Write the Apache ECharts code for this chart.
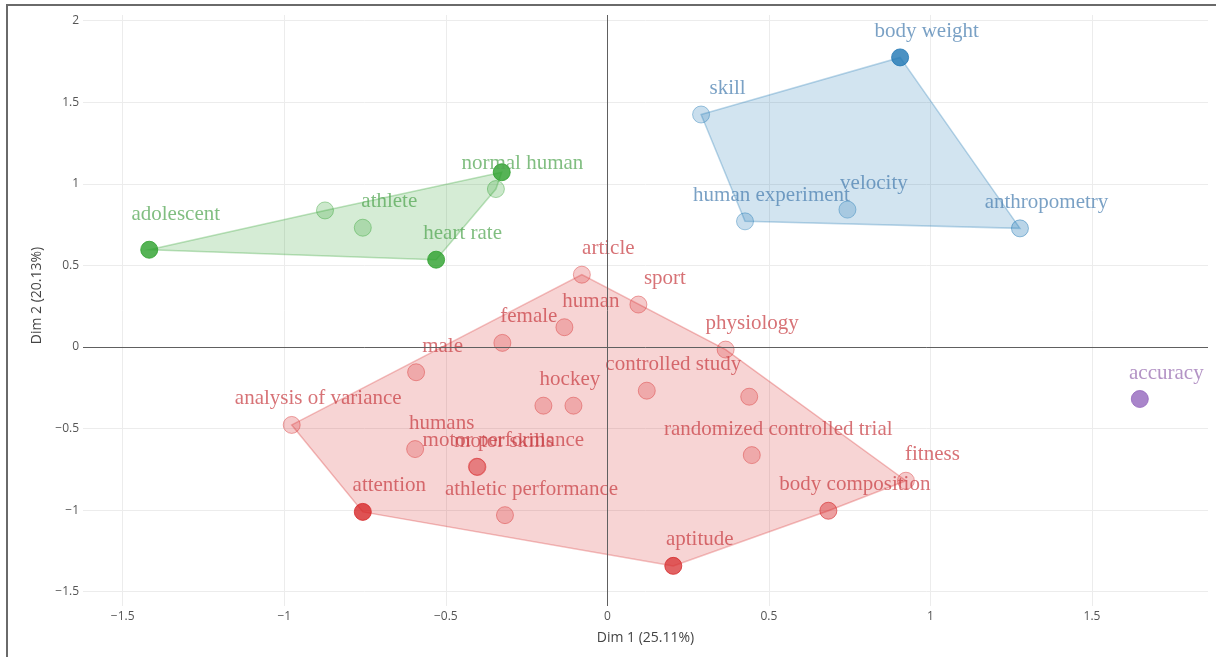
<!DOCTYPE html>
<html>
<head>
<meta charset="utf-8">
<script src="https://cdn.jsdelivr.net/npm/echarts@6/dist/echarts.min.js"></script>
<style>
  html, body { margin: 0; padding: 0; background: #fff; }
  #chart { width: 1216px; height: 657px; }
</style>
</head>
<body>
<div id="chart"></div>
<script>
// Keyword coordinates on the first two dimensions, one block per cluster.
// An empty name is a point drawn without a text label.

// cluster 1 (green)
const c1Names = ['adolescent', '', 'athlete', 'normal human', '', 'heart rate'];
const c1Dim1  = [-1.418, -0.874, -0.757, -0.345, -0.327, -0.530];
const c1Dim2  = [ 0.596,  0.837,  0.731,  0.968,  1.071,  0.535];

// cluster 2 (blue)
const c2Names = ['skill', 'body weight', 'human experiment', 'velocity', 'anthropometry'];
const c2Dim1  = [0.290, 0.906, 0.426, 0.743, 1.277];
const c2Dim2  = [1.425, 1.775, 0.770, 0.842, 0.727];

// cluster 3 (red)
const c3Names = ['article', 'sport', 'human', 'female', 'male', 'physiology',
  'controlled study', '', 'hockey', '', 'analysis of variance', 'humans',
  'motor performance', 'motor skills', 'randomized controlled trial', 'attention',
  'athletic performance', 'fitness', 'body composition', 'aptitude'];
const c3Dim1  = [-0.079, 0.096, -0.133, -0.325, -0.592, 0.366,
  0.122, 0.439, -0.198, -0.105, -0.977, -0.595,
  -0.404, -0.402, 0.447, -0.757,
  -0.317, 0.924, 0.684, 0.204];
const c3Dim2  = [0.443, 0.260, 0.121, 0.025, -0.155, -0.016,
  -0.268, -0.305, -0.360, -0.360, -0.478, -0.626,
  -0.734, -0.736, -0.663, -1.011,
  -1.031, -0.820, -1.004, -1.342];

// cluster 4 (purple)
const c4Names = ['accuracy'];
const c4Dim1  = [1.648];
const c4Dim2  = [-0.319];

// ---- styling (kept apart from the values above) ----
const c1Alpha = [1, 0.3, 0.3, 0.3, 1, 1];
const c2Alpha = [0.3, 1, 0.3, 0.3, 0.38];
const c3Alpha = [0.3, 0.3, 0.3, 0.3, 0.3, 0.3, 0.3, 0.3, 0.3, 0.3, 0.3, 0.3,
  0.36, 0.36, 0.3, 1, 0.3, 0.3, 0.55, 0.9];
const c4Alpha = [1];

const clusters = [
  { names: c1Names, xs: c1Dim1, ys: c1Dim2, alpha: c1Alpha, rgb: [44, 160, 44],   text: [80, 165, 80] },
  { names: c2Names, xs: c2Dim1, ys: c2Dim2, alpha: c2Alpha, rgb: [31, 119, 180],  text: [70, 125, 175] },
  { names: c3Names, xs: c3Dim1, ys: c3Dim2, alpha: c3Alpha, rgb: [214, 39, 40],   text: [200, 60, 65] },
  { names: c4Names, xs: c4Dim1, ys: c4Dim2, alpha: c4Alpha, rgb: [148, 103, 189], text: [150, 105, 175] }
];

// Per-label nudges (pixels) on top of the common label offset
const labelNudge = { 'adolescent': [0, -9] };
const LABEL_OFFSET = [26.5, -26];

const rgba = (c, a) => `rgba(${c[0]},${c[1]},${c[2]},${a})`;

// Convex hull (monotone chain) of a cluster's points in data space
function convexHull(points) {
  const p = points.slice().sort((a, b) => a[0] - b[0] || a[1] - b[1]);
  if (p.length < 3) return p;
  const cross = (o, a, b) => (a[0] - o[0]) * (b[1] - o[1]) - (a[1] - o[1]) * (b[0] - o[0]);
  const lower = [];
  for (const q of p) {
    while (lower.length >= 2 && cross(lower[lower.length - 2], lower[lower.length - 1], q) <= 0) lower.pop();
    lower.push(q);
  }
  const upper = [];
  for (let i = p.length - 1; i >= 0; i--) {
    const q = p[i];
    while (upper.length >= 2 && cross(upper[upper.length - 2], upper[upper.length - 1], q) <= 0) upper.pop();
    upper.push(q);
  }
  lower.pop(); upper.pop();
  return lower.concat(upper);
}

// Ticks every 0.5, written with a true minus sign
const fmtTick = v => {
  if (Math.abs(v * 2 - Math.round(v * 2)) > 1e-6) return '';
  const r = Math.round(v * 100) / 100;
  return (r < 0 ? '\u2212' : '') + Math.abs(r);
};

const series = [];

// zero lines
series.push({
  type: 'scatter', data: [], silent: true, z: 1,
  markLine: {
    silent: true, symbol: 'none', animation: false,
    label: { show: false },
    lineStyle: { color: '#606060', width: 1, type: 'solid' },
    data: [{ xAxis: 0 }, { yAxis: 0 }]
  }
});

clusters.forEach(c => {
  const pts = c.xs.map((x, i) => [x, c.ys[i]]);
  if (pts.length >= 3) {
    const hull = convexHull(pts);
    series.push({
      type: 'custom', silent: true, z: 2,
      data: hull,
      renderItem: (params, api) => {
        if (params.dataIndex !== 0) return null;
        return {
          type: 'polygon',
          shape: { points: hull.map(p => api.coord(p)) },
          style: { fill: rgba(c.rgb, 0.2), stroke: rgba(c.rgb, 0.3), lineWidth: 1.5 }
        };
      }
    });
  }
  series.push({
    type: 'scatter', z: 3,
    symbol: 'circle', symbolSize: 17,
    data: pts.map((p, i) => {
      const nudge = labelNudge[c.names[i]] || [0, 0];
      return {
        name: c.names[i],
        value: p,
        itemStyle: {
          color: rgba(c.rgb, c.alpha[i]),
          borderColor: rgba(c.rgb, Math.min(1, c.alpha[i] + 0.2)),
          borderWidth: 1
        },
        label: { offset: [LABEL_OFFSET[0] + nudge[0], LABEL_OFFSET[1] + nudge[1]] }
      };
    }),
    label: {
      show: true, position: 'inside', formatter: '{b}',
      fontFamily: 'Liberation Serif', fontSize: 21,
      color: rgba(c.text, 0.9)
    },
    emphasis: { disabled: true }
  });
});

const chart = echarts.init(document.getElementById('chart'), null, { renderer: 'canvas' });
chart.setOption({
  animation: false,
  backgroundColor: '#fff',
  grid: { left: 83, right: 8, top: 15, bottom: 51 },
  xAxis: {
    type: 'value', min: -1.623, max: 1.859, splitNumber: 7,
    axisLine: { show: false }, axisTick: { show: false },
    splitLine: { show: true, showMinLine: false, showMaxLine: false, lineStyle: { color: '#ececec', width: 1 } },
    axisLabel: { color: '#555', fontFamily: 'Open Sans', fontSize: 12, margin: 5, formatter: fmtTick },
    name: 'Dim 1 (25.11%)', nameLocation: 'middle', nameGap: 25,
    nameTextStyle: { color: '#444', fontFamily: 'Open Sans', fontSize: 14 }
  },
  yAxis: {
    type: 'value', min: -1.588, max: 2.035, splitNumber: 7,
    axisLine: { show: false }, axisTick: { show: false },
    splitLine: { show: true, showMinLine: false, showMaxLine: false, lineStyle: { color: '#ececec', width: 1 } },
    axisLabel: { color: '#555', fontFamily: 'Open Sans', fontSize: 12, margin: 4, formatter: fmtTick },
    name: 'Dim 2 (20.13%)', nameLocation: 'middle', nameGap: 38,
    nameTextStyle: { color: '#444', fontFamily: 'Open Sans', fontSize: 14, padding: [0, 0, 0, 30] }
  },
  graphic: [{
    type: 'rect', silent: true, z: 100,
    shape: { x: 7, y: 5, width: 1220, height: 700 },
    style: { fill: 'none', stroke: '#6a6a6a', lineWidth: 2 }
  }],
  series: series
});
</script>
</body>
</html>
